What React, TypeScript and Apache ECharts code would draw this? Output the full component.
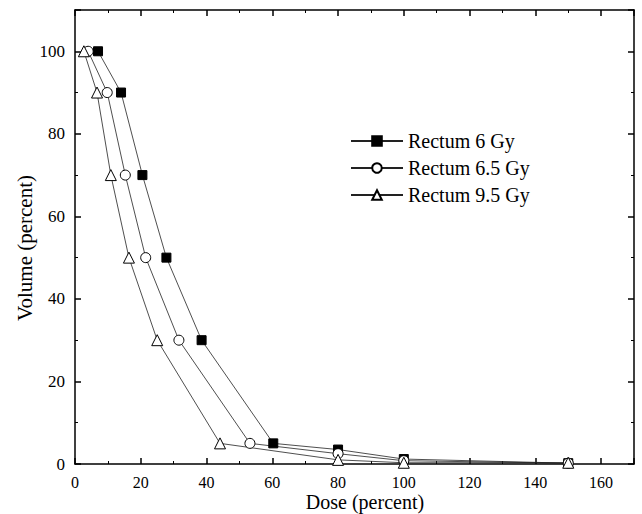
import React, { useEffect, useRef } from "react";
import * as echarts from "echarts";

const seriesNames = ["Rectum 6 Gy", "Rectum 6.5 Gy", "Rectum 9.5 Gy"];
const dose6: number[][] = [[7, 100], [14, 90], [20.5, 70], [27.8, 50], [38.5, 30], [60.3, 5], [80, 3.5], [100, 1.2], [150, 0.2]];
const dose65: number[][] = [[4, 100], [9.8, 90], [15.3, 70], [21.5, 50], [31.6, 30], [53.2, 5], [80, 2.5], [100, 0.8], [150, 0.2]];
const dose95: number[][] = [[2.7, 100], [6.7, 90], [10.9, 70], [16.4, 50], [25, 30], [44.1, 5], [80, 1], [100, 0.3], [150, 0.3]];
const xTitle = "Dose (percent)";
const yTitle = "Volume (percent)";

const FONT = "'Liberation Serif', 'Times New Roman', serif";

export default function App() {
  const ref = useRef<HTMLDivElement>(null);
  useEffect(() => {
    const chart = echarts.init(ref.current!, null, { renderer: "svg" });
    const axisLine = { show: true, onZero: false, lineStyle: { color: "#000", width: 1.5 } };
    const tick = { show: true, inside: true, length: 6, lineStyle: { color: "#000", width: 1.5 } };
    const minor = { show: true, splitNumber: 2, length: 3, lineStyle: { color: "#000", width: 1 } };
    const mk = (name: string, data: number[][], symbol: string, size: number, fill: string) => ({
      name,
      type: "line",
      data,
      symbol,
      symbolSize: size,
      showAllSymbol: true,
      lineStyle: { color: "#222", width: 0.8 },
      itemStyle: { color: fill, borderColor: "#000", borderWidth: 1 },
    });
    chart.setOption({
      animation: false,
      grid: { left: 75, right: 8, top: 10, bottom: 50 },
      legend: {
        orient: "vertical",
        left: 345,
        top: 126,
        itemWidth: 52,
        itemHeight: 12,
        itemGap: 7,
        data: seriesNames,
        textStyle: { fontFamily: FONT, fontSize: 20, color: "#000" },
      },
      graphic: [
        {
          type: "text",
          x: 365,
          y: 502,
          style: { text: xTitle, fontFamily: FONT, fontSize: 20, fill: "#000", align: "center", verticalAlign: "middle" },
        },
        {
          type: "text",
          x: 25,
          y: 248,
          rotation: Math.PI / 2,
          style: { text: yTitle, fontFamily: FONT, fontSize: 21, fill: "#000", align: "center", verticalAlign: "middle" },
        },
      ],
      xAxis: [
        {
          type: "value",
          min: 0,
          max: 170,
          interval: 20,
          axisLine,
          axisTick: tick,
          minorTick: minor,
          splitLine: { show: false },
          axisLabel: { fontFamily: FONT, fontSize: 16, color: "#000", margin: 10, showMaxLabel: false },
        },
        {
          type: "value",
          position: "top",
          min: 0,
          max: 170,
          interval: 20,
          axisLine,
          axisTick: tick,
          minorTick: minor,
          splitLine: { show: false },
          axisLabel: { show: false },
        },
      ],
      yAxis: [
        {
          type: "value",
          min: 0,
          max: 110,
          interval: 20,
          axisLine,
          axisTick: tick,
          minorTick: minor,
          splitLine: { show: false },
          axisLabel: { fontFamily: FONT, fontSize: 17, color: "#000", margin: 10, showMaxLabel: false },
        },
        {
          type: "value",
          position: "right",
          min: 0,
          max: 110,
          interval: 20,
          axisLine,
          axisTick: tick,
          minorTick: minor,
          splitLine: { show: false },
          axisLabel: { show: false },
        },
      ],
      series: [
        mk(seriesNames[0], dose6, "rect", 9, "#000"),
        mk(seriesNames[1], dose65, "circle", 10, "#fff"),
        mk(seriesNames[2], dose95, "triangle", 11, "#fff"),
      ],
    });
    return () => chart.dispose();
  }, []);
  return <div ref={ref} style={{ position: "fixed", left: 0, top: 0, width: 642, height: 514, background: "#fff" }} />;
}
